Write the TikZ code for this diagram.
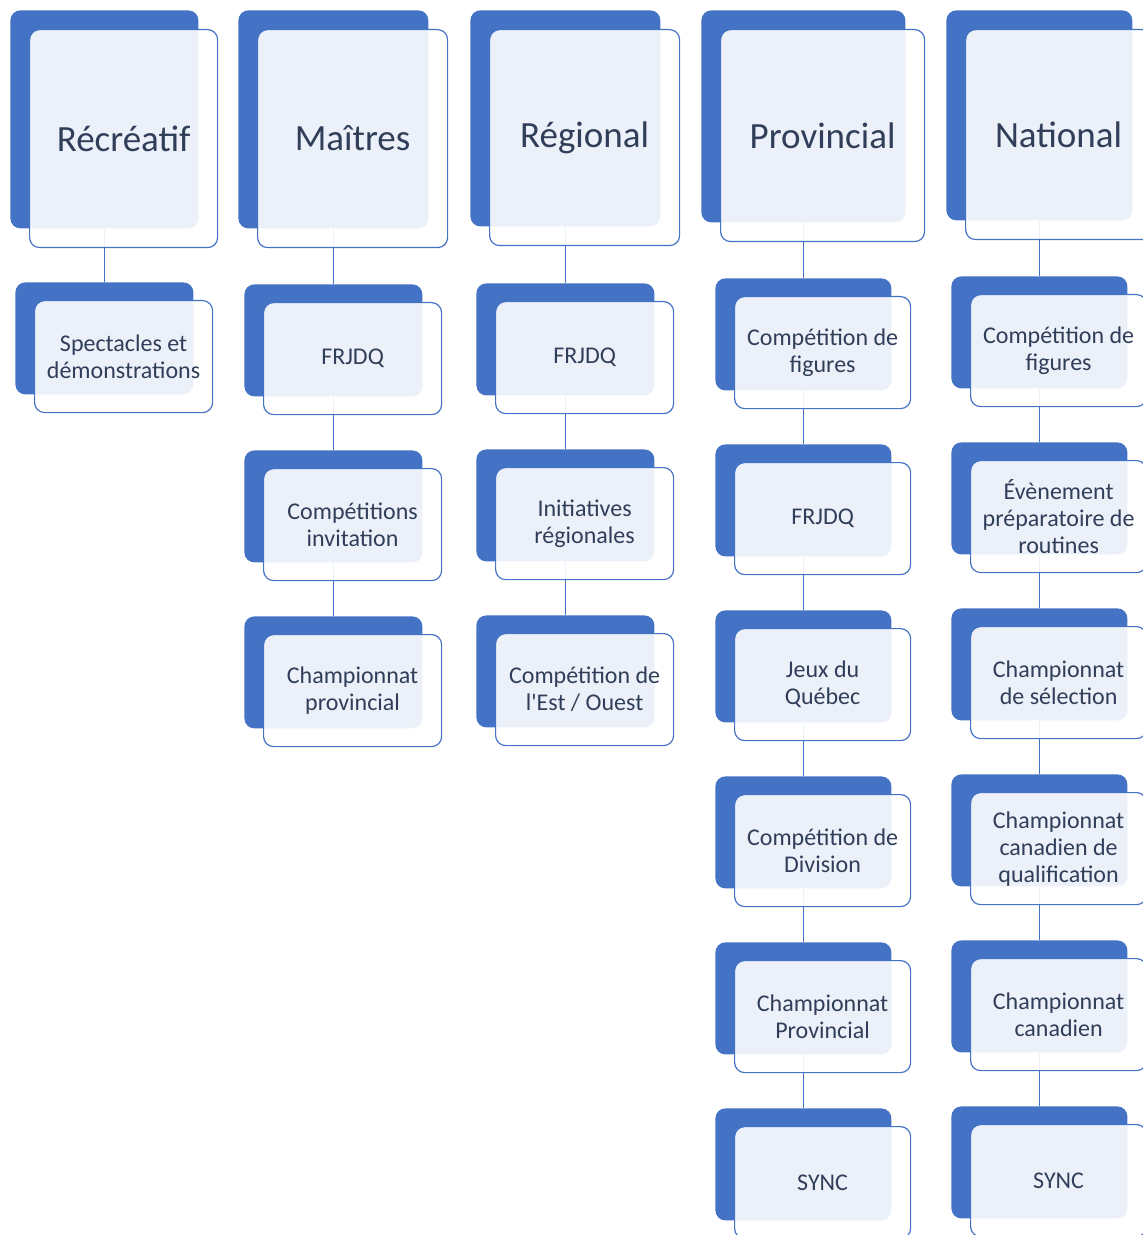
\documentclass[tikz,border=0pt]{standalone}
\usepackage{fontspec}
\setmainfont{Carlito}
\usetikzlibrary{positioning,backgrounds}

\definecolor{boxblue}{HTML}{4472C4}
\definecolor{textnavy}{HTML}{313E5A}

\begin{document}
\begin{tikzpicture}[
    x=0.5pt, y=-0.5pt,
    backing/.style={rectangle, fill=boxblue, rounded corners=5pt, inner sep=0pt,
        anchor=north west},
    panel/.style={rectangle, draw=boxblue, line width=0.6pt, fill=white,
        fill opacity=0.9, text opacity=1, rounded corners=5pt, inner sep=0pt,
        text=textnavy, align=center, anchor=north west},
    headback/.style={backing, minimum height=109pt},
    headpanel/.style={panel, minimum height=109pt, font=\fontsize{18.5}{22}\selectfont},
    itemback/.style={backing, minimum width=89pt, minimum height=56pt},
    itempanel/.style={panel, minimum width=89pt, minimum height=56pt,
        font=\fontsize{12}{13.5}\selectfont},
    link/.style={draw=boxblue, line width=0.75pt}
]
\useasboundingbox (0,0) rectangle (1143,1235);

% Récréatif
\node (Recreatif) [headback, minimum width=94pt] at (10,10) {};
\node (RecreatifF) [headpanel, minimum width=94pt] at (29,29) {Récréatif};
\node (Recreatif01) [itemback] at (15,282) {};
\node (Recreatif01F) [itempanel] at (34,300) {Spectacles et\\démonstrations};

% Maîtres
\node (Maitres) [headback, minimum width=95pt] at (238,10) {};
\node (MaitresF) [headpanel, minimum width=95pt] at (257,29) {Maîtres};
\node (Maitres01) [itemback] at (244,284) {};
\node (Maitres01F) [itempanel] at (263,302) {FRJDQ};
\node (Maitres02) [itemback] at (244,450) {};
\node (Maitres02F) [itempanel] at (263,468) {Compétitions\\invitation};
\node (Maitres03) [itemback] at (244,616) {};
\node (Maitres03F) [itempanel] at (263,634) {Championnat\\provincial};

% Régional
\node (Regional) [headback, minimum width=95pt, minimum height=108pt] at (470,10) {};
\node (RegionalF) [headpanel, minimum width=95pt, minimum height=108pt] at (489,29) {Régional};
\node (Regional01) [itemback] at (476,283) {};
\node (Regional01F) [itempanel] at (495,301) {FRJDQ};
\node (Regional02) [itemback] at (476,449) {};
\node (Regional02F) [itempanel] at (495,467) {Initiatives\\régionales};
\node (Regional03) [itemback] at (476,615) {};
\node (Regional03F) [itempanel] at (495,633) {Compétition de\\l\textquotesingle Est / Ouest};

% Provincial
\node (Provincial) [headback, minimum width=102pt, minimum height=106pt] at (701,10) {};
\node (ProvincialF) [headpanel, minimum width=102pt, minimum height=106pt] at (720,29) {Provincial};
\node (Provincial01) [itemback, minimum width=88pt] at (715,278) {};
\node (Provincial01F) [itempanel, minimum width=88pt] at (734,296) {Compétition de\\figures};
\node (Provincial02) [itemback, minimum width=88pt] at (715,444) {};
\node (Provincial02F) [itempanel, minimum width=88pt] at (734,462) {FRJDQ};
\node (Provincial03) [itemback, minimum width=88pt] at (715,610) {};
\node (Provincial03F) [itempanel, minimum width=88pt] at (734,628) {Jeux du\\Québec};
\node (Provincial04) [itemback, minimum width=88pt] at (715,776) {};
\node (Provincial04F) [itempanel, minimum width=88pt] at (734,794) {Compétition de\\Division};
\node (Provincial05) [itemback, minimum width=88pt] at (715,942) {};
\node (Provincial05F) [itempanel, minimum width=88pt] at (734,960) {Championnat\\Provincial};
\node (Provincial06) [itemback, minimum width=88pt] at (715,1108) {};
\node (Provincial06F) [itempanel, minimum width=88pt] at (734,1126) {SYNC};

% National
\node (National) [headback, minimum width=93pt, minimum height=105pt] at (946,10) {};
\node (NationalF) [headpanel, minimum width=93pt, minimum height=105pt] at (965,29) {National};
\node (National01) [itemback, minimum width=88pt] at (951,276) {};
\node (National01F) [itempanel, minimum width=88pt] at (970,294) {Compétition de\\figures};
\node (National02) [itemback, minimum width=88pt] at (951,442) {};
\node (National02F) [itempanel, minimum width=88pt] at (970,460) {Évènement\\préparatoire de\\routines};
\node (National03) [itemback, minimum width=88pt] at (951,608) {};
\node (National03F) [itempanel, minimum width=88pt] at (970,626) {Championnat\\de sélection};
\node (National04) [itemback, minimum width=88pt] at (951,774) {};
\node (National04F) [itempanel, minimum width=88pt] at (970,792) {Championnat\\canadien de\\qualification};
\node (National05) [itemback, minimum width=88pt] at (951,940) {};
\node (National05F) [itempanel, minimum width=88pt] at (970,958) {Championnat\\canadien};
\node (National06) [itemback, minimum width=88pt] at (951,1106) {};
\node (National06F) [itempanel, minimum width=88pt] at (970,1124) {SYNC};

% connectors
\begin{pgfonlayer}{background}
\draw [link] (Recreatif.south) -- (Recreatif01.north);
\draw [link] (Maitres.south) -- (Maitres01.north);
\draw [link] (Maitres01.south) -- (Maitres02.north);
\draw [link] (Maitres02.south) -- (Maitres03.north);
\draw [link] (Regional.south) -- (Regional01.north);
\draw [link] (Regional01.south) -- (Regional02.north);
\draw [link] (Regional02.south) -- (Regional03.north);
\draw [link] (Provincial.south) -- (Provincial01.north);
\draw [link] (Provincial01.south) -- (Provincial02.north);
\draw [link] (Provincial02.south) -- (Provincial03.north);
\draw [link] (Provincial03.south) -- (Provincial04.north);
\draw [link] (Provincial04.south) -- (Provincial05.north);
\draw [link] (Provincial05.south) -- (Provincial06.north);
\draw [link] (National.south) -- (National01.north);
\draw [link] (National01.south) -- (National02.north);
\draw [link] (National02.south) -- (National03.north);
\draw [link] (National03.south) -- (National04.north);
\draw [link] (National04.south) -- (National05.north);
\draw [link] (National05.south) -- (National06.north);
\end{pgfonlayer}
\end{tikzpicture}
\end{document}
